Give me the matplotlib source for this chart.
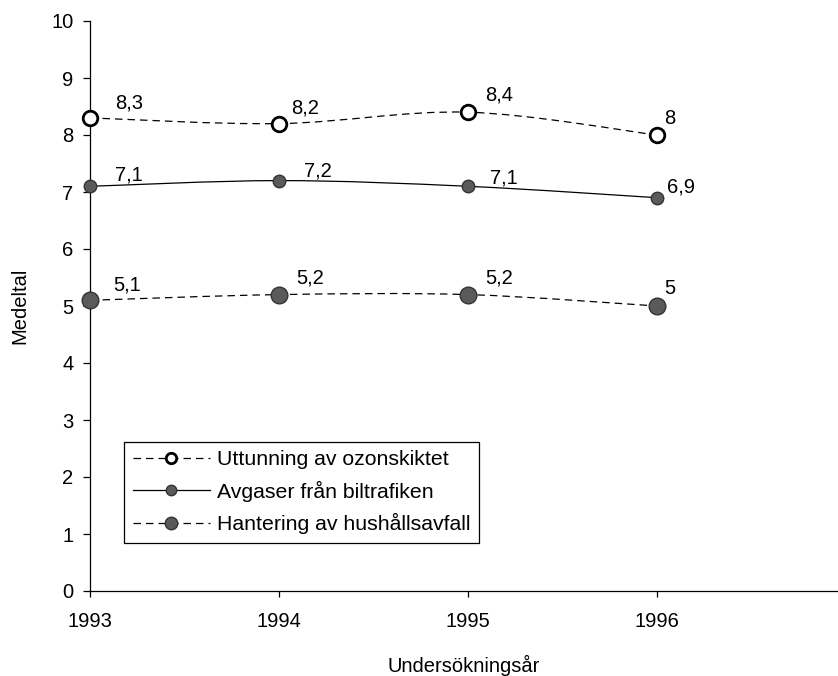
import numpy as np
import matplotlib
matplotlib.use("Agg")
import matplotlib.pyplot as plt
from matplotlib.path import Path
from matplotlib.patches import PathPatch
from matplotlib.lines import Line2D

plt.rcParams['font.family'] = ['Liberation Sans', 'DejaVu Sans']

years = [1993, 1994, 1995, 1996]
ozon = [8.3, 8.2, 8.4, 8.0]
avgaser = [7.1, 7.2, 7.1, 6.9]
avfall = [5.1, 5.2, 5.2, 5.0]
ozon_labels = ["8,3", "8,2", "8,4", "8"]
avgaser_labels = ["7,1", "7,2", "7,1", "6,9"]
avfall_labels = ["5,1", "5,2", "5,2", "5"]
series_names = ["Uttunning av ozonskiktet", "Avgaser från biltrafiken",
                "Hantering av hushållsavfall"]
yticks = list(range(0, 11))

# label offsets in pixels (dx, dy) - style only
off_ozon = [(25, 9), (12, 10), (17, 12), (7, 11)]
off_avg = [(25, 6), (25, 4), (22, 3), (10, 5)]
off_avf = [(23, 10), (17, 11), (17, 11), (7, 12)]

FS = 14.5
LFS = 15.3

fig = plt.figure(figsize=(8.38, 6.76), dpi=100)
ax = fig.add_axes([90/838, 85/676, 748/838, 570/676])
ax.set_xlim(1993, 1993 + 748/189)
ax.set_ylim(0, 10)


def smooth_path(xs, ys, t=1/6):
    xs = np.asarray(xs, float); ys = np.asarray(ys, float)
    n = len(xs)
    verts = [(xs[0], ys[0])]
    codes = [Path.MOVETO]
    for i in range(n - 1):
        p0 = np.array([xs[max(i-1, 0)], ys[max(i-1, 0)]])
        p1 = np.array([xs[i], ys[i]])
        p2 = np.array([xs[i+1], ys[i+1]])
        p3 = np.array([xs[min(i+2, n-1)], ys[min(i+2, n-1)]])
        c1 = p1 + (p2 - p0) * t
        c2 = p2 - (p3 - p1) * t
        verts += [tuple(c1), tuple(c2), tuple(p2)]
        codes += [Path.CURVE4] * 3
    return Path(verts, codes)


styles = [
    dict(ls=(0, (6, 4)), marker='o', mfc='white', mec='black', ms=10.5, mew=2.0),
    dict(ls='-', marker='o', mfc='#5a5a5a', mec='#333333', ms=9.0, mew=1.0),
    dict(ls=(0, (6, 4)), marker='o', mfc='#5a5a5a', mec='#333333', ms=12.0, mew=1.0),
]
leg_ms = [7.5, 7.5, 9.0]
data = [ozon, avgaser, avfall]
labels = [ozon_labels, avgaser_labels, avfall_labels]
offsets = [off_ozon, off_avg, off_avf]

handles = []
for vals, st, labs, offs, lms in zip(data, styles, labels, offsets, leg_ms):
    patch = PathPatch(smooth_path(years, vals), facecolor='none', edgecolor='black',
                      lw=0.9, linestyle=st['ls'], zorder=2)
    ax.add_patch(patch)
    ax.plot(years, vals, linestyle='none', marker=st['marker'], mfc=st['mfc'],
            mec=st['mec'], ms=st['ms'], mew=st['mew'], zorder=3, clip_on=False)
    for x, y, lab, (dx, dy) in zip(years, vals, labs, offs):
        ax.annotate(lab, (x, y), xytext=(dx*0.72, dy*0.72), textcoords='offset points',
                    ha='left', va='baseline', fontsize=FS)
    handles.append(Line2D([], [], color='black', lw=0.9, linestyle=st['ls'],
                          marker=st['marker'], mfc=st['mfc'], mec=st['mec'],
                          ms=lms, mew=st['mew']))

leg = ax.legend(handles, series_names, loc='lower left',
                bbox_to_anchor=(34/748, 48/570), fontsize=LFS, frameon=True,
                fancybox=False, edgecolor='black', handlelength=3.65,
                handletextpad=0.33, labelspacing=0.55, borderpad=0.4,
                borderaxespad=0, framealpha=1)
leg.get_frame().set_linewidth(0.9)

ax.spines['top'].set_visible(False)
ax.spines['right'].set_visible(False)
for s in ('left', 'bottom'):
    ax.spines[s].set_linewidth(0.9)
ax.set_xticks(years)
ax.set_xticklabels([str(y) for y in years])
ax.set_yticks(yticks)
ax.set_yticklabels([str(v) for v in yticks])
ax.tick_params(axis='x', direction='out', length=4, width=0.9, pad=11, labelsize=FS)
ax.tick_params(axis='y', direction='out', length=5, width=0.9, pad=7, labelsize=FS)

ax.set_xlabel("Undersökningsår", fontsize=FS, va='center')
ax.xaxis.set_label_coords(0.5, (591-665)/570)
ax.set_ylabel("Medeltal", fontsize=FS, va='center')
ax.yaxis.set_label_coords((20-90)/748, (591-306)/570)

fig.savefig("out.png", dpi=100)
